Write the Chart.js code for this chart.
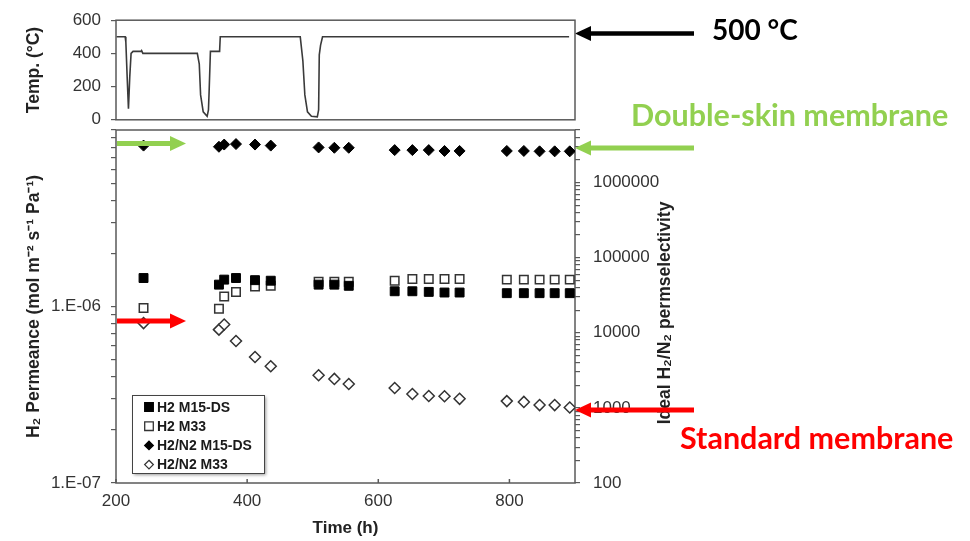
<!DOCTYPE html>
<html>
<head>
<meta charset="utf-8">
<script src="https://cdn.jsdelivr.net/npm/chart.js@4"></script>
<style>
  html, body { margin: 0; padding: 0; background: #fff; }
  #wrap { position: relative; width: 970px; height: 541px; }
  #wrap canvas { position: absolute; left: 0; top: 0; }
</style>
</head>
<body>
<div id="wrap">
  <canvas id="permChart" width="970" height="541"></canvas>
  <canvas id="tempChart" width="970" height="140"></canvas>
</div>
<script>
// measurement times (h)
var times = [242, 357, 365, 383, 412, 436, 509, 533, 555, 625, 652, 677, 701, 724, 796, 822, 846, 869, 892];

// H2 permeance (mol m-2 s-1 Pa-1)
var h2M15DS = [1.45e-6, 1.33e-6, 1.42e-6, 1.45e-6, 1.41e-6, 1.40e-6, 1.33e-6, 1.33e-6, 1.31e-6, 1.22e-6,
               1.22e-6, 1.21e-6, 1.20e-6, 1.20e-6, 1.19e-6, 1.19e-6, 1.19e-6, 1.19e-6, 1.19e-6];
var h2M33   = [9.8e-7, 9.7e-7, 1.14e-6, 1.21e-6, 1.30e-6, 1.31e-6, 1.38e-6, 1.38e-6, 1.38e-6, 1.40e-6,
               1.43e-6, 1.43e-6, 1.43e-6, 1.43e-6, 1.42e-6, 1.42e-6, 1.42e-6, 1.42e-6, 1.42e-6];

// ideal H2/N2 permselectivity
var selM15DS = [3.1e6, 2.99e6, 3.2e6, 3.25e6, 3.2e6, 3.1e6, 2.93e6, 2.9e6, 2.9e6, 2.7e6,
                2.7e6, 2.7e6, 2.63e6, 2.63e6, 2.63e6, 2.63e6, 2.6e6, 2.6e6, 2.6e6];
var selM33   = [13450, 11000, 12900, 7760, 4750, 3580, 2720, 2430, 2080, 1840,
                1530, 1440, 1430, 1320, 1230, 1200, 1090, 1090, 1010];

// furnace temperature log
var tempTime = [201, 214, 215, 217, 219, 221, 223, 226, 238, 239, 241, 324, 327, 329, 333, 339, 341, 342, 344, 358,
                359, 481, 485, 488, 492, 498, 507, 509, 510, 512, 515, 891];
var tempC    = [500, 500, 470, 260, 67, 260, 400, 412, 412, 417, 400, 400, 335, 150, 48, 21, 60, 169, 412, 412,
                500, 500, 354, 150, 48, 21, 18, 60, 391, 450, 500, 500];

// axis ticks
var timeTicks = [200, 400, 600, 800];
var tempTicks = [0, 200, 400, 600];
var permMajor = [1e-7, 1e-6, 1e-5];
var permMajorLabels = ['1.E-07', '1.E-06', ''];
var selMajor = [100, 1000, 10000, 100000, 1000000];
var selMajorLabels = ['100', '1000', '10000', '100000', '1000000'];

var seriesNames = ['H2 M15-DS', 'H2 M33', 'H2/N2 M15-DS', 'H2/N2 M33'];

Chart.defaults.font.family = '"Liberation Sans", Arial, sans-serif';
Chart.defaults.color = '#333';

function pts(xs, ys) {
  return xs.map(function (x, i) { return { x: x, y: ys[i] }; });
}

// 1..9 x 10^n ticks between min and max
function logTicks(min, max) {
  var out = [];
  for (var e = Math.floor(Math.log10(min)); e <= Math.ceil(Math.log10(max)); e++) {
    for (var m = 1; m <= 9; m++) {
      var v = m * Math.pow(10, e);
      if (v >= min * 0.999 && v <= max * 1.001) out.push({ value: v, major: m === 1 });
    }
  }
  return out;
}

function majorLabel(v, majors, labels) {
  for (var i = 0; i < majors.length; i++) {
    if (Math.abs(Math.log10(v / majors[i])) < 1e-6) return labels[i];
  }
  return '';
}

var frameColor = '#5a5a5a';

var framePlugin = {
  id: 'frame',
  beforeDatasetsDraw: function (chart) {
    var a = chart.chartArea, ctx = chart.ctx;
    ctx.save();
    ctx.strokeStyle = frameColor;
    ctx.lineWidth = 1.5;
    ctx.strokeRect(a.left, a.top, a.right - a.left, a.bottom - a.top);
    // short inward ticks on the time axis
    if (chart.scales.x.options.display !== false) {
      ctx.beginPath();
      timeTicks.forEach(function (t) {
        var px = chart.scales.x.getPixelForValue(t);
        ctx.moveTo(px, a.bottom);
        ctx.lineTo(px, a.bottom - 4);
      });
      ctx.stroke();
    }
    ctx.restore();
  }
};

function arrow(ctx, x0, x1, y, color, w) {
  var dir = x1 > x0 ? 1 : -1, head = 16, hw = 7.5;
  ctx.strokeStyle = color;
  ctx.fillStyle = color;
  ctx.lineWidth = w;
  ctx.beginPath();
  ctx.moveTo(x0, y);
  ctx.lineTo(x1 - dir * head, y);
  ctx.stroke();
  ctx.beginPath();
  ctx.moveTo(x1, y);
  ctx.lineTo(x1 - dir * head, y - hw);
  ctx.lineTo(x1 - dir * head, y + hw);
  ctx.closePath();
  ctx.fill();
}

function marker(ctx, style, filled, x, y, r) {
  ctx.beginPath();
  if (style === 'rect') {
    ctx.rect(x - r, y - r, 2 * r, 2 * r);
  } else {
    ctx.moveTo(x, y - r); ctx.lineTo(x + r, y); ctx.lineTo(x, y + r); ctx.lineTo(x - r, y); ctx.closePath();
  }
  ctx.fillStyle = filled ? '#000' : '#fff';
  ctx.fill();
  ctx.strokeStyle = filled ? '#000' : '#333';
  ctx.lineWidth = 1.3;
  ctx.stroke();
}

var notesPlugin = {
  id: 'notes',
  afterDraw: function (chart) {
    var ctx = chart.ctx, a = chart.chartArea;
    ctx.save();

    // right axis title, reading upwards
    ctx.translate(665, 313);
    ctx.rotate(-Math.PI / 2);
    ctx.font = 'bold 17.5px "Liberation Sans", Arial, sans-serif';
    ctx.fillStyle = '#222';
    ctx.textAlign = 'center';
    ctx.textBaseline = 'middle';
    ctx.fillText('Ideal H\u2082/N\u2082 permselectivity', 0, 0);
    ctx.setTransform(1, 0, 0, 1, 0, 0);

    // legend box
    var lx = 132, ly = 395, lw = 132, lh = 78;
    ctx.save();
    ctx.shadowColor = 'rgba(0,0,0,0.4)';
    ctx.shadowBlur = 3;
    ctx.shadowOffsetX = 2;
    ctx.shadowOffsetY = 2;
    ctx.fillStyle = '#fff';
    ctx.fillRect(lx, ly, lw, lh);
    ctx.restore();
    ctx.strokeStyle = '#444';
    ctx.lineWidth = 1;
    ctx.strokeRect(lx + 0.5, ly + 0.5, lw, lh);
    ctx.font = 'bold 14px "Liberation Sans", Arial, sans-serif';
    ctx.textAlign = 'left';
    ctx.textBaseline = 'middle';
    chart.data.datasets.forEach(function (ds, i) {
      var y = ly + 12 + i * 19.2;
      marker(ctx, ds.pointStyle === 'rect' ? 'rect' : 'diamond', ds.backgroundColor === '#000', lx + 17, y, 4.3);
      ctx.fillStyle = '#1a1a1a';
      ctx.fillText(ds.label, lx + 25, y + 1);
    });

    // arrows
    arrow(ctx, 694, 575, 33.5, '#000', 4.5);
    arrow(ctx, a.left + 1, 186, 143.5, '#92D050', 5);
    arrow(ctx, 694, 575, 148, '#92D050', 5);
    arrow(ctx, a.left + 1, 186, 321, '#FF0000', 5);
    arrow(ctx, 694, 575, 410, '#FF0000', 5);

    // call-out text
    ctx.textBaseline = 'alphabetic';
    ctx.font = 'bold 28px Lato, "Open Sans", sans-serif';
    ctx.fillStyle = '#000';
    ctx.fillText('500 \u00B0C', 712, 40);
    ctx.font = 'bold 30.5px Lato, "Open Sans", sans-serif';
    ctx.fillStyle = '#92D050';
    ctx.fillText('Double-skin membrane', 631, 126);
    ctx.fillStyle = '#FF0000';
    ctx.fillText('Standard membrane', 680, 449);

    ctx.restore();
  }
};

var axisGrid = { drawOnChartArea: false, tickLength: 5, color: frameColor, lineWidth: 1.2 };
var tickFont = { size: 17 };

new Chart(document.getElementById('permChart'), {
  type: 'scatter',
  data: {
    datasets: [
      { label: seriesNames[0], data: pts(times, h2M15DS), yAxisID: 'yP', pointStyle: 'rect', pointRadius: 6.3,
        backgroundColor: '#000', borderColor: '#000', borderWidth: 1 },
      { label: seriesNames[1], data: pts(times, h2M33), yAxisID: 'yP', pointStyle: 'rect', pointRadius: 6,
        backgroundColor: '#fff', borderColor: '#333', borderWidth: 1.5 },
      { label: seriesNames[2], data: pts(times, selM15DS), yAxisID: 'yS', pointStyle: 'rectRot', pointRadius: 5.5,
        backgroundColor: '#000', borderColor: '#000', borderWidth: 1 },
      { label: seriesNames[3], data: pts(times, selM33), yAxisID: 'yS', pointStyle: 'rectRot', pointRadius: 5.5,
        backgroundColor: '#fff', borderColor: '#333', borderWidth: 1.5 }
    ]
  },
  options: {
    responsive: false,
    animation: false,
    events: [],
    layout: { padding: { top: 130, bottom: 0, left: 0, right: 275 } },
    plugins: { legend: { display: false }, tooltip: { enabled: false } },
    scales: {
      x: {
        type: 'linear', min: 200, max: 900,
        afterBuildTicks: function (s) { s.ticks = timeTicks.map(function (v) { return { value: v }; }); },
        afterFit: function (s) { s.height = 58; },
        grid: { drawOnChartArea: false, drawTicks: false },
        border: { display: false },
        ticks: { padding: 8, font: tickFont, autoSkip: false, maxRotation: 0 },
        title: { display: true, text: 'Time (h)', color: '#222', font: { size: 17, weight: 'bold' },
                 padding: { top: 0, bottom: 2 } }
      },
      yP: {
        type: 'logarithmic', position: 'left', min: 1e-7, max: 1e-5,
        afterBuildTicks: function (s) { s.ticks = logTicks(1e-7, 1e-5); },
        afterFit: function (s) { s.width = 116; },
        grid: axisGrid,
        border: { display: false },
        ticks: { padding: 10, font: tickFont, autoSkip: false,
                 callback: function (v) { return majorLabel(v, permMajor, permMajorLabels); } },
        title: { display: true, text: 'H\u2082 Permeance (mol m\u207B\u00B2 s\u207B\u00B9 Pa\u207B\u00B9)', color: '#222',
                 font: { size: 17.5, weight: 'bold' }, padding: { top: 24 } }
      },
      yS: {
        type: 'logarithmic', position: 'right', min: 100, max: 5e6,
        afterBuildTicks: function (s) { s.ticks = logTicks(100, 5e6); },
        afterFit: function (s) { s.width = 120; },
        grid: axisGrid,
        border: { display: false },
        ticks: { padding: 13, font: tickFont, autoSkip: false,
                 callback: function (v) { return majorLabel(v, selMajor, selMajorLabels); } }
      }
    }
  },
  plugins: [framePlugin, notesPlugin]
});

new Chart(document.getElementById('tempChart'), {
  type: 'scatter',
  data: {
    datasets: [{
      label: 'Temperature', data: pts(tempTime, tempC), showLine: true, pointRadius: 0,
      borderColor: '#3a3a3a', borderWidth: 1.6, tension: 0
    }]
  },
  options: {
    responsive: false,
    animation: false,
    events: [],
    layout: { padding: { top: 20, bottom: 10, left: 0, right: 395 } },
    plugins: { legend: { display: false }, tooltip: { enabled: false } },
    scales: {
      x: { type: 'linear', min: 200, max: 900, display: false },
      y: {
        min: 0, max: 600,
        afterBuildTicks: function (s) { s.ticks = tempTicks.map(function (v) { return { value: v }; }); },
        afterFit: function (s) { s.width = 116; },
        grid: axisGrid,
        border: { display: false },
        ticks: { padding: 10, font: tickFont },
        title: { display: true, text: 'Temp. (\u00B0C)', color: '#222', font: { size: 17.5, weight: 'bold' },
                 padding: { top: 24 } }
      }
    }
  },
  plugins: [framePlugin]
});
</script>
</body>
</html>
